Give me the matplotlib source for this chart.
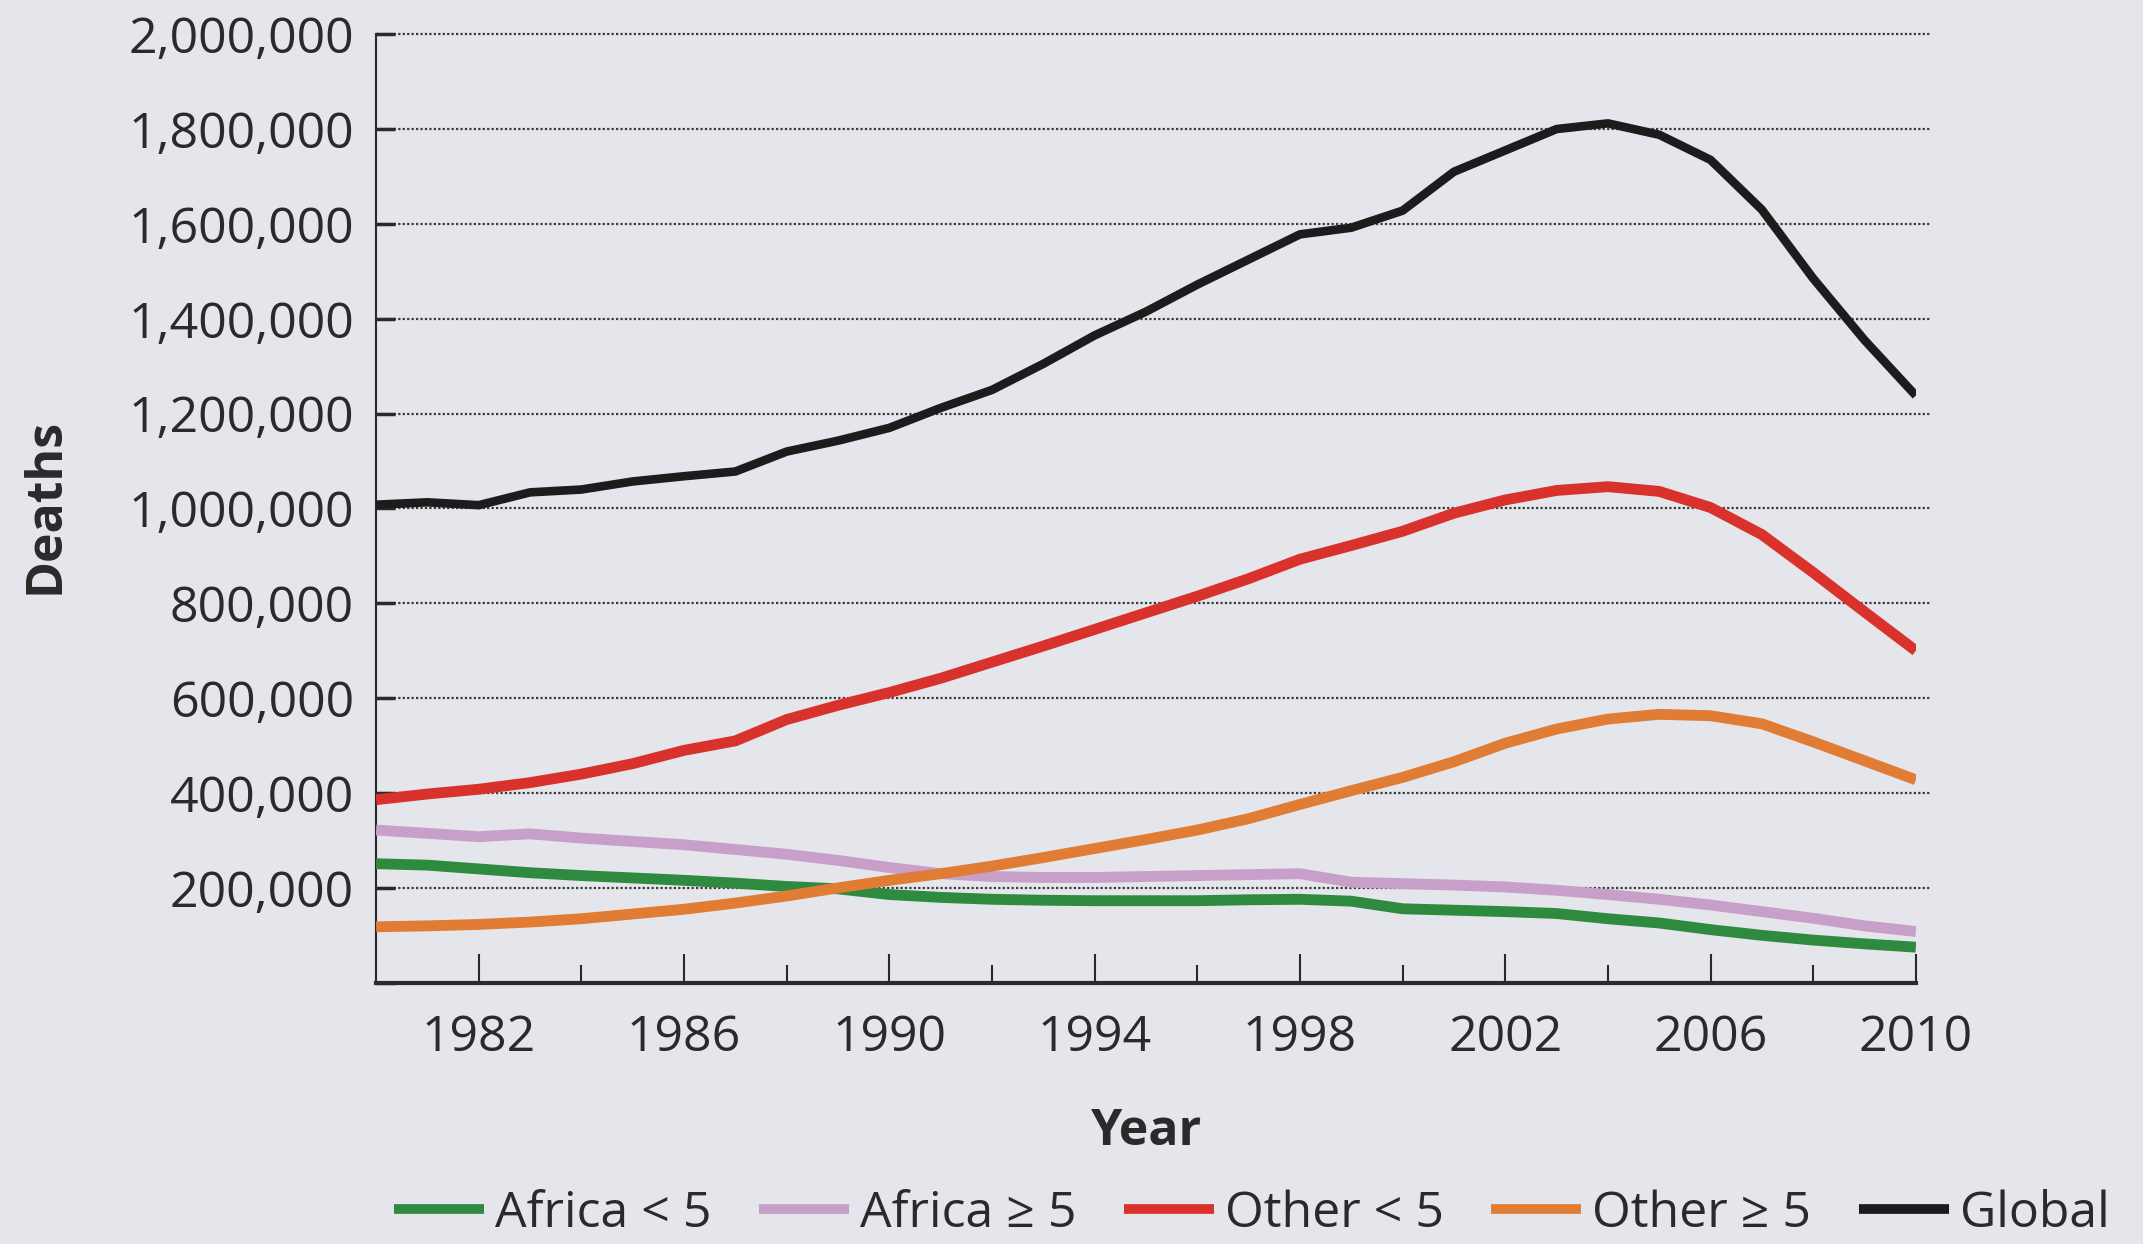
import numpy as np
import matplotlib
matplotlib.use("Agg")
import matplotlib.pyplot as plt
from matplotlib.ticker import FuncFormatter, MultipleLocator

# Data (deaths per year)
years = list(range(1980, 2011))

africa_lt5 = [251000, 248000, 240000, 232000, 226000, 221000, 216000, 210000, 203000, 198000,
              186000, 180000, 176000, 174000, 173000, 173000, 173000, 175000, 176000, 172000,
              156000, 153000, 150000, 146000, 135000, 126000, 112000, 100000, 90000, 82000, 75000]
africa_ge5 = [322000, 315000, 308000, 314000, 305000, 298000, 291000, 281000, 271000, 258000,
              243000, 230000, 224000, 222000, 222000, 224000, 226000, 228000, 230000, 212000,
              209000, 206000, 202000, 195000, 186000, 176000, 164000, 150000, 136000, 120000, 108000]
other_lt5 = [386000, 398000, 408000, 422000, 440000, 462000, 490000, 510000, 555000, 585000,
             612000, 642000, 676000, 710000, 745000, 780000, 815000, 852000, 893000, 922000,
             952000, 990000, 1018000, 1038000, 1046000, 1036000, 1002000, 945000, 865000, 782000, 700000]
other_ge5 = [118000, 120000, 123000, 128000, 135000, 145000, 155000, 168000, 183000, 200000,
             216000, 230000, 246000, 264000, 283000, 302000, 322000, 346000, 376000, 405000,
             433000, 466000, 505000, 535000, 556000, 566000, 563000, 546000, 508000, 468000, 428000]
global_all = [1008000, 1013000, 1007000, 1034000, 1040000, 1057000, 1068000, 1078000, 1120000, 1143000,
              1170000, 1212000, 1250000, 1305000, 1365000, 1415000, 1472000, 1525000, 1578000, 1592000,
              1628000, 1710000, 1755000, 1800000, 1812000, 1788000, 1735000, 1630000, 1485000, 1355000, 1238000]

labels = ["Africa < 5", "Africa \u2265 5", "Other < 5", "Other \u2265 5", "Global"]
colors = ["#2e8a3e", "#c79fc9", "#d9322d", "#e07c33", "#1c1c1c"]
series = [africa_lt5, africa_ge5, other_lt5, other_ge5, global_all]

bg = "#e4e6eb"
txt = "#2a2a2a"
plt.rcParams['font.family'] = ['Open Sans', 'DejaVu Sans']

fig = plt.figure(figsize=(21.43, 12.44), dpi=100, facecolor=bg)
ax = fig.add_axes([0.1755, 0.21, 0.7185, 0.7625])
ax.set_facecolor(bg)

for vals, lab, col in zip(series, labels, colors):
    lw = 6.2 if lab == "Global" else 7.8
    ax.plot(years, vals, color=col, lw=lw, label=lab, solid_capstyle='butt',
            solid_joinstyle='round', zorder=3)

# dotted gridlines
for v in range(200000, 2000001, 200000):
    ax.plot([1980, 2010.3], [v, v], color="#3a3a3a", lw=1.6, linestyle=(0, (1, 1)),
            zorder=1, clip_on=False)

ax.set_xlim(1980, 2010)
ax.set_ylim(0, 2000000)

ax.spines['top'].set_visible(False)
ax.spines['right'].set_visible(False)
ax.spines['left'].set_linewidth(1.5)
ax.spines['bottom'].set_linewidth(3)
ax.spines['left'].set_color(txt)
ax.spines['bottom'].set_color(txt)

ax.yaxis.set_major_locator(MultipleLocator(200000))
ax.yaxis.set_major_formatter(FuncFormatter(lambda v, p: "" if v == 0 else f"{int(v):,}"))
ax.tick_params(axis='y', direction='in', length=14, width=2.5, color=txt,
               labelsize=36, pad=16, labelcolor=txt)

ax.set_xticks(list(range(1982, 2011, 4)))
ax.set_xticks(list(range(1984, 2010, 4)), minor=True)
ax.tick_params(axis='x', which='major', direction='in', length=21, width=1.5, color=txt,
               labelsize=36, pad=22, labelcolor=txt)
ax.tick_params(axis='x', which='minor', direction='in', length=13, width=1.5, color=txt)

fig.text(0.021, 0.593, "Deaths", rotation=90, ha='center', va='center',
         fontsize=36, fontweight='bold', color=txt)
fig.text(0.535, 0.09, "Year", ha='center', va='center',
         fontsize=36, fontweight='bold', color=txt)

leg = fig.legend(loc='center', bbox_to_anchor=(0.584, 0.024), ncol=5, frameon=False,
                 fontsize=36, handlelength=1.8, handletextpad=0.22, columnspacing=0.95,
                 labelcolor=txt)
for h in leg.legend_handles:
    h.set_linewidth(7)

fig.savefig("out.png", dpi=100, facecolor=bg)
